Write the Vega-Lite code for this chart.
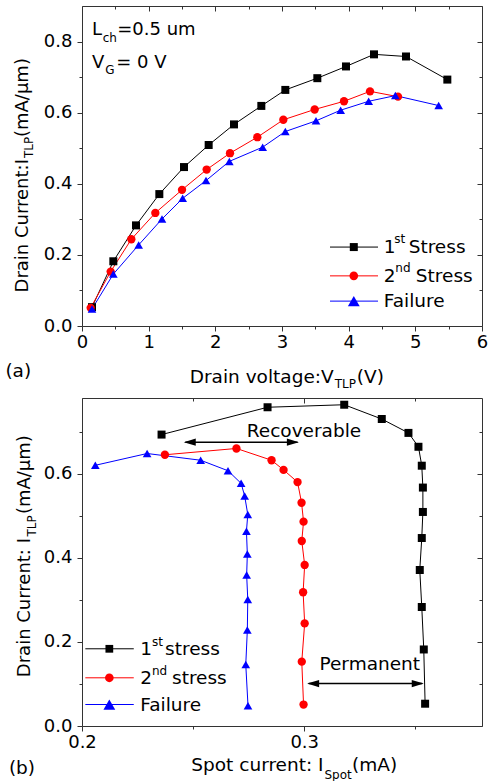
{
"$schema": "https://vega.github.io/schema/vega-lite/v6.json",
"padding": {"left": 5, "top": 5, "right": 0, "bottom": 0},
"spacing": 6,
"config": {
  "view": {"stroke": null},
  "axis": {"domainColor": "#333333", "tickColor": "#333333", "labelColor": "#000000", "labelFont": "DejaVu Sans", "labelFontSize": 18, "domainWidth": 1, "tickWidth": 1, "grid": false, "labelFlush": false, "labelOverlap": false},
  "text": {"font": "DejaVu Sans", "fontSize": 18.5, "color": "#000000"}
},
"datasets": {
  "meas": [
    {"s": "1st", "k": 0, "v": 0.15, "i": 0.053, "spot": 0.3544},
    {"s": "1st", "k": 1, "v": 0.47, "i": 0.182, "spot": 0.3538},
    {"s": "1st", "k": 2, "v": 0.81, "i": 0.283, "spot": 0.3529},
    {"s": "1st", "k": 3, "v": 1.16, "i": 0.371, "spot": 0.3520},
    {"s": "1st", "k": 4, "v": 1.53, "i": 0.447, "spot": 0.3529},
    {"s": "1st", "k": 5, "v": 1.90, "i": 0.509, "spot": 0.3534},
    {"s": "1st", "k": 6, "v": 2.28, "i": 0.567, "spot": 0.3534},
    {"s": "1st", "k": 7, "v": 2.69, "i": 0.619, "spot": 0.3529},
    {"s": "1st", "k": 8, "v": 3.05, "i": 0.664, "spot": 0.3514},
    {"s": "1st", "k": 9, "v": 3.53, "i": 0.697, "spot": 0.3469},
    {"s": "1st", "k": 10, "v": 3.96, "i": 0.730, "spot": 0.3349},
    {"s": "1st", "k": 11, "v": 4.38, "i": 0.764, "spot": 0.3180},
    {"s": "1st", "k": 12, "v": 4.86, "i": 0.758, "spot": 0.2835},
    {"s": "1st", "k": 13, "v": 5.48, "i": 0.693, "spot": 0.2358},
    {"s": "2nd", "k": 0, "v": 0.13, "i": 0.051, "spot": 0.2997},
    {"s": "2nd", "k": 1, "v": 0.43, "i": 0.153, "spot": 0.2989},
    {"s": "2nd", "k": 2, "v": 0.74, "i": 0.244, "spot": 0.3002},
    {"s": "2nd", "k": 3, "v": 1.10, "i": 0.318, "spot": 0.2995},
    {"s": "2nd", "k": 4, "v": 1.50, "i": 0.383, "spot": 0.3002},
    {"s": "2nd", "k": 5, "v": 1.87, "i": 0.440, "spot": 0.2989},
    {"s": "2nd", "k": 6, "v": 2.22, "i": 0.486, "spot": 0.2997},
    {"s": "2nd", "k": 7, "v": 2.63, "i": 0.531, "spot": 0.2988},
    {"s": "2nd", "k": 8, "v": 3.02, "i": 0.580, "spot": 0.2970},
    {"s": "2nd", "k": 9, "v": 3.49, "i": 0.609, "spot": 0.2907},
    {"s": "2nd", "k": 10, "v": 3.93, "i": 0.632, "spot": 0.2853},
    {"s": "2nd", "k": 11, "v": 4.32, "i": 0.660, "spot": 0.2695},
    {"s": "2nd", "k": 12, "v": 4.74, "i": 0.645, "spot": 0.2373},
    {"s": "Failure", "k": 0, "v": 0.15, "i": 0.048, "spot": 0.2747},
    {"s": "Failure", "k": 1, "v": 0.47, "i": 0.146, "spot": 0.2737},
    {"s": "Failure", "k": 2, "v": 0.85, "i": 0.228, "spot": 0.2744},
    {"s": "Failure", "k": 3, "v": 1.20, "i": 0.301, "spot": 0.2746},
    {"s": "Failure", "k": 4, "v": 1.51, "i": 0.359, "spot": 0.2741},
    {"s": "Failure", "k": 5, "v": 1.86, "i": 0.409, "spot": 0.2744},
    {"s": "Failure", "k": 6, "v": 2.21, "i": 0.463, "spot": 0.2740},
    {"s": "Failure", "k": 7, "v": 2.71, "i": 0.503, "spot": 0.2746},
    {"s": "Failure", "k": 8, "v": 3.05, "i": 0.547, "spot": 0.2732},
    {"s": "Failure", "k": 9, "v": 3.51, "i": 0.577, "spot": 0.2716},
    {"s": "Failure", "k": 10, "v": 3.88, "i": 0.607, "spot": 0.2657},
    {"s": "Failure", "k": 11, "v": 4.30, "i": 0.632, "spot": 0.2534},
    {"s": "Failure", "k": 12, "v": 4.70, "i": 0.648, "spot": 0.2293},
    {"s": "Failure", "k": 13, "v": 5.35, "i": 0.620, "spot": 0.2060}
  ]
},
"vconcat": [
{
  "width": 400, "height": 320,
  "resolve": {"axis": {"x": "independent", "y": "independent"}},
  "layer": [
    {"data": {"name": "meas"}, "mark": {"type": "line", "strokeWidth": 1},
     "encoding": {
       "x": {"field": "v", "type": "quantitative", "scale": {"domain": [0, 6], "nice": false, "zero": false}, "axis": {"orient": "bottom", "values": [0, 1, 2, 3, 4, 5, 6], "format": "d", "tickSize": 5, "labelPadding": 2, "title": null}},
       "y": {"field": "i", "type": "quantitative", "scale": {"domain": [0, 0.9], "nice": false, "zero": false}, "axis": {"orient": "left", "values": [0, 0.2, 0.4, 0.6, 0.8], "format": ".1f", "tickSize": 5, "labelPadding": 5, "title": null}},
       "color": {"field": "s", "type": "nominal", "scale": {"domain": ["1st", "2nd", "Failure"], "range": ["#000000", "#ff0000", "#0000ff"]}, "legend": null},
       "order": {"field": "k", "type": "quantitative"}
     }},
    {"data": {"name": "meas"}, "mark": {"type": "point", "filled": true, "opacity": 1, "strokeWidth": 0},
     "encoding": {
       "x": {"field": "v", "type": "quantitative", "scale": {"domain": [0, 6], "nice": false, "zero": false}, "axis": {"orient": "bottom", "values": [0.5, 1.5, 2.5, 3.5, 4.5, 5.5], "tickSize": 3, "labels": false, "domain": false, "title": null}},
       "y": {"field": "i", "type": "quantitative", "scale": {"domain": [0, 0.9], "nice": false, "zero": false}, "axis": {"orient": "left", "values": [0.1, 0.3, 0.5, 0.7], "tickSize": 3, "labels": false, "domain": false, "title": null}},
       "color": {"field": "s", "type": "nominal", "scale": {"domain": ["1st", "2nd", "Failure"], "range": ["#000000", "#ff0000", "#0000ff"]}, "legend": null},
       "shape": {"field": "s", "type": "nominal", "scale": {"domain": ["1st", "2nd", "Failure"], "range": ["square", "circle", "triangle-up"]}, "legend": null},
       "size": {"field": "s", "type": "nominal", "scale": {"domain": ["1st", "2nd", "Failure"], "range": [64, 75, 140]}, "legend": null}
     }},
    {"data": {"name": "meas"}, "mark": {"type": "point", "opacity": 0},
     "encoding": {
       "x": {"field": "v", "type": "quantitative", "scale": {"domain": [0, 6], "nice": false, "zero": false}, "axis": {"orient": "top", "values": [0, 1, 2, 3, 4, 5, 6], "tickSize": -5, "labels": false, "title": null}},
       "y": {"field": "i", "type": "quantitative", "scale": {"domain": [0, 0.9], "nice": false, "zero": false}, "axis": {"orient": "right", "values": [0, 0.2, 0.4, 0.6, 0.8], "tickSize": -5, "labels": false, "title": null}}
     }},
    {"data": {"name": "meas"}, "mark": {"type": "point", "opacity": 0},
     "encoding": {
       "x": {"field": "v", "type": "quantitative", "scale": {"domain": [0, 6], "nice": false, "zero": false}, "axis": {"orient": "top", "values": [0.5, 1.5, 2.5, 3.5, 4.5, 5.5], "tickSize": -3, "labels": false, "domain": false, "title": null}},
       "y": {"field": "i", "type": "quantitative", "scale": {"domain": [0, 0.9], "nice": false, "zero": false}, "axis": {"orient": "right", "values": [0.1, 0.3, 0.5, 0.7], "tickSize": -3, "labels": false, "domain": false, "title": null}}
     }},
    {"data": {"values": [{}]}, "mark": {"type": "text", "text": "L", "align": "left", "baseline": "alphabetic", "fontSize": 18}, "encoding": {"x": {"datum": 0.150, "type": "quantitative", "axis": null}, "y": {"datum": 0.8175, "type": "quantitative", "axis": null}}},
    {"data": {"values": [{}]}, "mark": {"type": "text", "text": "ch", "align": "left", "baseline": "alphabetic", "fontSize": 12}, "encoding": {"x": {"datum": 0.3115, "type": "quantitative", "axis": null}, "y": {"datum": 0.7995, "type": "quantitative", "axis": null}}},
    {"data": {"values": [{}]}, "mark": {"type": "text", "text": "=0.5 um", "align": "left", "baseline": "alphabetic", "fontSize": 18}, "encoding": {"x": {"datum": 0.529, "type": "quantitative", "axis": null}, "y": {"datum": 0.8175, "type": "quantitative", "axis": null}}},
    {"data": {"values": [{}]}, "mark": {"type": "text", "text": "V", "align": "left", "baseline": "alphabetic", "fontSize": 18}, "encoding": {"x": {"datum": 0.150, "type": "quantitative", "axis": null}, "y": {"datum": 0.726, "type": "quantitative", "axis": null}}},
    {"data": {"values": [{}]}, "mark": {"type": "text", "text": "G", "align": "left", "baseline": "alphabetic", "fontSize": 12}, "encoding": {"x": {"datum": 0.349, "type": "quantitative", "axis": null}, "y": {"datum": 0.7095, "type": "quantitative", "axis": null}}},
    {"data": {"values": [{}]}, "mark": {"type": "text", "text": "= 0 V", "align": "left", "baseline": "alphabetic", "fontSize": 18}, "encoding": {"x": {"datum": 0.514, "type": "quantitative", "axis": null}, "y": {"datum": 0.726, "type": "quantitative", "axis": null}}},
    {"data": {"values": [{}]}, "mark": {"type": "text", "text": "(a)", "align": "left", "baseline": "alphabetic", "fontSize": 18.5}, "encoding": {"x": {"datum": -1.149, "type": "quantitative", "axis": null}, "y": {"datum": -0.1434, "type": "quantitative", "axis": null}}},
    {"data": {"values": [{}]}, "mark": {"type": "text", "text": "Drain voltage:V", "align": "right", "baseline": "alphabetic", "fontSize": 18.5}, "encoding": {"x": {"datum": 3.775, "type": "quantitative", "axis": null}, "y": {"datum": -0.159, "type": "quantitative", "axis": null}}},
    {"data": {"values": [{}]}, "mark": {"type": "text", "text": "TLP", "align": "left", "baseline": "alphabetic", "fontSize": 12}, "encoding": {"x": {"datum": 3.79, "type": "quantitative", "axis": null}, "y": {"datum": -0.175, "type": "quantitative", "axis": null}}},
    {"data": {"values": [{}]}, "mark": {"type": "text", "text": "(V)", "align": "left", "baseline": "alphabetic", "fontSize": 18.5}, "encoding": {"x": {"datum": 4.123, "type": "quantitative", "axis": null}, "y": {"datum": -0.159, "type": "quantitative", "axis": null}}},
    {"data": {"values": [{}]}, "mark": {"type": "text", "text": "Drain Current:I", "angle": 270, "align": "right", "baseline": "alphabetic", "fontSize": 18}, "encoding": {"x": {"datum": -0.804, "type": "quantitative", "axis": null}, "y": {"datum": 0.4696, "type": "quantitative", "axis": null}}},
    {"data": {"values": [{}]}, "mark": {"type": "text", "text": "TLP", "angle": 270, "align": "left", "baseline": "alphabetic", "fontSize": 12}, "encoding": {"x": {"datum": -0.737, "type": "quantitative", "axis": null}, "y": {"datum": 0.4724, "type": "quantitative", "axis": null}}},
    {"data": {"values": [{}]}, "mark": {"type": "text", "text": "(mA/μm)", "angle": 270, "align": "left", "baseline": "alphabetic", "fontSize": 18}, "encoding": {"x": {"datum": -0.804, "type": "quantitative", "axis": null}, "y": {"datum": 0.5315, "type": "quantitative", "axis": null}}},
    {"data": {"values": [{}]}, "mark": {"type": "rule", "color": "#000000", "strokeWidth": 1}, "encoding": {"x": {"datum": 3.72, "type": "quantitative", "axis": null}, "x2": {"datum": 4.44}, "y": {"datum": 0.222, "type": "quantitative", "axis": null}}},
    {"data": {"values": [{}]}, "mark": {"type": "rule", "color": "#ff0000", "strokeWidth": 1}, "encoding": {"x": {"datum": 3.72, "type": "quantitative", "axis": null}, "x2": {"datum": 4.44}, "y": {"datum": 0.141, "type": "quantitative", "axis": null}}},
    {"data": {"values": [{}]}, "mark": {"type": "rule", "color": "#0000ff", "strokeWidth": 1}, "encoding": {"x": {"datum": 3.72, "type": "quantitative", "axis": null}, "x2": {"datum": 4.44}, "y": {"datum": 0.070, "type": "quantitative", "axis": null}}},
    {"data": {"values": [{}]}, "mark": {"type": "point", "shape": "square", "filled": true, "color": "#000000", "size": 64, "opacity": 1, "strokeWidth": 0}, "encoding": {"x": {"datum": 4.077, "type": "quantitative", "axis": null}, "y": {"datum": 0.222, "type": "quantitative", "axis": null}}},
    {"data": {"values": [{}]}, "mark": {"type": "point", "shape": "circle", "filled": true, "color": "#ff0000", "size": 75, "opacity": 1, "strokeWidth": 0}, "encoding": {"x": {"datum": 4.077, "type": "quantitative", "axis": null}, "y": {"datum": 0.141, "type": "quantitative", "axis": null}}},
    {"data": {"values": [{}]}, "mark": {"type": "point", "shape": "triangle-up", "filled": true, "color": "#0000ff", "size": 140, "opacity": 1, "strokeWidth": 0}, "encoding": {"x": {"datum": 4.077, "type": "quantitative", "axis": null}, "y": {"datum": 0.070, "type": "quantitative", "axis": null}}},
    {"data": {"values": [{}]}, "mark": {"type": "text", "text": "1", "align": "left", "baseline": "middle"}, "encoding": {"x": {"datum": 4.527, "type": "quantitative", "axis": null}, "y": {"datum": 0.222, "type": "quantitative", "axis": null}}},
    {"data": {"values": [{}]}, "mark": {"type": "text", "text": "st", "align": "left", "baseline": "middle", "fontSize": 12}, "encoding": {"x": {"datum": 4.685, "type": "quantitative", "axis": null}, "y": {"datum": 0.2445, "type": "quantitative", "axis": null}}},
    {"data": {"values": [{}]}, "mark": {"type": "text", "text": "Stress", "align": "left", "baseline": "middle"}, "encoding": {"x": {"datum": 4.90, "type": "quantitative", "axis": null}, "y": {"datum": 0.222, "type": "quantitative", "axis": null}}},
    {"data": {"values": [{}]}, "mark": {"type": "text", "text": "2", "align": "left", "baseline": "middle"}, "encoding": {"x": {"datum": 4.527, "type": "quantitative", "axis": null}, "y": {"datum": 0.141, "type": "quantitative", "axis": null}}},
    {"data": {"values": [{}]}, "mark": {"type": "text", "text": "nd", "align": "left", "baseline": "middle", "fontSize": 12}, "encoding": {"x": {"datum": 4.700, "type": "quantitative", "axis": null}, "y": {"datum": 0.1635, "type": "quantitative", "axis": null}}},
    {"data": {"values": [{}]}, "mark": {"type": "text", "text": "Stress", "align": "left", "baseline": "middle"}, "encoding": {"x": {"datum": 5.007, "type": "quantitative", "axis": null}, "y": {"datum": 0.141, "type": "quantitative", "axis": null}}},
    {"data": {"values": [{}]}, "mark": {"type": "text", "text": "Failure", "align": "left", "baseline": "middle"}, "encoding": {"x": {"datum": 4.527, "type": "quantitative", "axis": null}, "y": {"datum": 0.070, "type": "quantitative", "axis": null}}}
  ]
},
{
  "width": 400, "height": 328,
  "resolve": {"axis": {"x": "independent", "y": "independent"}},
  "layer": [
    {"data": {"name": "meas"}, "mark": {"type": "line", "strokeWidth": 1},
     "encoding": {
       "x": {"field": "spot", "type": "quantitative", "scale": {"domain": [0.2, 0.38], "nice": false, "zero": false}, "axis": {"orient": "bottom", "values": [0.2, 0.3], "format": ".1f", "tickSize": 5, "labelPadding": 2, "title": null}},
       "y": {"field": "i", "type": "quantitative", "scale": {"domain": [0, 0.78], "nice": false, "zero": false}, "axis": {"orient": "left", "values": [0, 0.2, 0.4, 0.6], "format": ".1f", "tickSize": 5, "labelPadding": 5, "title": null}},
       "color": {"field": "s", "type": "nominal", "scale": {"domain": ["1st", "2nd", "Failure"], "range": ["#000000", "#ff0000", "#0000ff"]}, "legend": null},
       "order": {"field": "k", "type": "quantitative"}
     }},
    {"data": {"name": "meas"}, "mark": {"type": "point", "filled": true, "opacity": 1, "strokeWidth": 0},
     "encoding": {
       "x": {"field": "spot", "type": "quantitative", "scale": {"domain": [0.2, 0.38], "nice": false, "zero": false}, "axis": {"orient": "bottom", "values": [0.25, 0.35], "tickSize": 3, "labels": false, "domain": false, "title": null}},
       "y": {"field": "i", "type": "quantitative", "scale": {"domain": [0, 0.78], "nice": false, "zero": false}, "axis": {"orient": "left", "values": [0.1, 0.3, 0.5, 0.7], "tickSize": 3, "labels": false, "domain": false, "title": null}},
       "color": {"field": "s", "type": "nominal", "scale": {"domain": ["1st", "2nd", "Failure"], "range": ["#000000", "#ff0000", "#0000ff"]}, "legend": null},
       "shape": {"field": "s", "type": "nominal", "scale": {"domain": ["1st", "2nd", "Failure"], "range": ["square", "circle", "triangle-up"]}, "legend": null},
       "size": {"field": "s", "type": "nominal", "scale": {"domain": ["1st", "2nd", "Failure"], "range": [60, 75, 140]}, "legend": null}
     }},
    {"data": {"name": "meas"}, "mark": {"type": "point", "opacity": 0},
     "encoding": {
       "x": {"field": "spot", "type": "quantitative", "scale": {"domain": [0.2, 0.38], "nice": false, "zero": false}, "axis": {"orient": "top", "values": [0.2, 0.3], "tickSize": -5, "labels": false, "title": null}},
       "y": {"field": "i", "type": "quantitative", "scale": {"domain": [0, 0.78], "nice": false, "zero": false}, "axis": {"orient": "right", "values": [0, 0.2, 0.4, 0.6], "tickSize": -5, "labels": false, "title": null}}
     }},
    {"data": {"name": "meas"}, "mark": {"type": "point", "opacity": 0},
     "encoding": {
       "x": {"field": "spot", "type": "quantitative", "scale": {"domain": [0.2, 0.38], "nice": false, "zero": false}, "axis": {"orient": "top", "values": [0.25, 0.35], "tickSize": -3, "labels": false, "domain": false, "title": null}},
       "y": {"field": "i", "type": "quantitative", "scale": {"domain": [0, 0.78], "nice": false, "zero": false}, "axis": {"orient": "right", "values": [0.1, 0.3, 0.5, 0.7], "tickSize": -3, "labels": false, "domain": false, "title": null}}
     }},
    {"data": {"values": [{}]}, "mark": {"type": "text", "text": "(b)", "align": "left", "baseline": "alphabetic", "fontSize": 18.5}, "encoding": {"x": {"datum": 0.1671, "type": "quantitative", "axis": null}, "y": {"datum": -0.113, "type": "quantitative", "axis": null}}},
    {"data": {"values": [{}]}, "mark": {"type": "text", "text": "Spot current: I", "align": "right", "baseline": "alphabetic", "fontSize": 18.5}, "encoding": {"x": {"datum": 0.3087, "type": "quantitative", "axis": null}, "y": {"datum": -0.1075, "type": "quantitative", "axis": null}}},
    {"data": {"values": [{}]}, "mark": {"type": "text", "text": "Spot", "align": "left", "baseline": "alphabetic", "fontSize": 12}, "encoding": {"x": {"datum": 0.3091, "type": "quantitative", "axis": null}, "y": {"datum": -0.1256, "type": "quantitative", "axis": null}}},
    {"data": {"values": [{}]}, "mark": {"type": "text", "text": "(mA)", "align": "left", "baseline": "alphabetic", "fontSize": 18.5}, "encoding": {"x": {"datum": 0.3215, "type": "quantitative", "axis": null}, "y": {"datum": -0.1075, "type": "quantitative", "axis": null}}},
    {"data": {"values": [{}]}, "mark": {"type": "text", "text": "Drain Current: I", "angle": 270, "align": "right", "baseline": "alphabetic", "fontSize": 18}, "encoding": {"x": {"datum": 0.1768, "type": "quantitative", "axis": null}, "y": {"datum": 0.447, "type": "quantitative", "axis": null}}},
    {"data": {"values": [{}]}, "mark": {"type": "text", "text": "TLP", "angle": 270, "align": "left", "baseline": "alphabetic", "fontSize": 12}, "encoding": {"x": {"datum": 0.1793, "type": "quantitative", "axis": null}, "y": {"datum": 0.4507, "type": "quantitative", "axis": null}}},
    {"data": {"values": [{}]}, "mark": {"type": "text", "text": "(mA/μm)", "angle": 270, "align": "left", "baseline": "alphabetic", "fontSize": 18}, "encoding": {"x": {"datum": 0.1768, "type": "quantitative", "axis": null}, "y": {"datum": 0.504, "type": "quantitative", "axis": null}}},
    {"data": {"values": [{}]}, "mark": {"type": "text", "text": "Recoverable", "align": "center", "baseline": "alphabetic"}, "encoding": {"x": {"datum": 0.2999, "type": "quantitative", "axis": null}, "y": {"datum": 0.687, "type": "quantitative", "axis": null}}},
    {"data": {"values": [{}]}, "mark": {"type": "text", "text": "Permanent", "align": "center", "baseline": "alphabetic"}, "encoding": {"x": {"datum": 0.3295, "type": "quantitative", "axis": null}, "y": {"datum": 0.132, "type": "quantitative", "axis": null}}},
    {"data": {"values": [{}]}, "mark": {"type": "rule", "color": "#000000", "strokeWidth": 1.5}, "encoding": {"x": {"datum": 0.2465, "type": "quantitative", "axis": null}, "x2": {"datum": 0.2970}, "y": {"datum": 0.675, "type": "quantitative", "axis": null}}},
    {"data": {"values": [{}]}, "mark": {"type": "point", "shape": "M-1,0L1,-0.6L1,0.6Z", "filled": true, "color": "#000000", "size": 144, "opacity": 1, "strokeWidth": 0}, "encoding": {"x": {"datum": 0.2485, "type": "quantitative", "axis": null}, "y": {"datum": 0.675, "type": "quantitative", "axis": null}}},
    {"data": {"values": [{}]}, "mark": {"type": "point", "shape": "M1,0L-1,-0.6L-1,0.6Z", "filled": true, "color": "#000000", "size": 144, "opacity": 1, "strokeWidth": 0}, "encoding": {"x": {"datum": 0.2949, "type": "quantitative", "axis": null}, "y": {"datum": 0.675, "type": "quantitative", "axis": null}}},
    {"data": {"values": [{}]}, "mark": {"type": "rule", "color": "#000000", "strokeWidth": 1.5}, "encoding": {"x": {"datum": 0.3020, "type": "quantitative", "axis": null}, "x2": {"datum": 0.3531}, "y": {"datum": 0.101, "type": "quantitative", "axis": null}}},
    {"data": {"values": [{}]}, "mark": {"type": "point", "shape": "M-1,0L1,-0.6L1,0.6Z", "filled": true, "color": "#000000", "size": 144, "opacity": 1, "strokeWidth": 0}, "encoding": {"x": {"datum": 0.3040, "type": "quantitative", "axis": null}, "y": {"datum": 0.101, "type": "quantitative", "axis": null}}},
    {"data": {"values": [{}]}, "mark": {"type": "point", "shape": "M1,0L-1,-0.6L-1,0.6Z", "filled": true, "color": "#000000", "size": 144, "opacity": 1, "strokeWidth": 0}, "encoding": {"x": {"datum": 0.3511, "type": "quantitative", "axis": null}, "y": {"datum": 0.101, "type": "quantitative", "axis": null}}},
    {"data": {"values": [{}]}, "mark": {"type": "rule", "color": "#000000", "strokeWidth": 1}, "encoding": {"x": {"datum": 0.2015, "type": "quantitative", "axis": null}, "x2": {"datum": 0.2233}, "y": {"datum": 0.1836, "type": "quantitative", "axis": null}}},
    {"data": {"values": [{}]}, "mark": {"type": "rule", "color": "#ff0000", "strokeWidth": 1}, "encoding": {"x": {"datum": 0.2015, "type": "quantitative", "axis": null}, "x2": {"datum": 0.2233}, "y": {"datum": 0.1146, "type": "quantitative", "axis": null}}},
    {"data": {"values": [{}]}, "mark": {"type": "rule", "color": "#0000ff", "strokeWidth": 1}, "encoding": {"x": {"datum": 0.2015, "type": "quantitative", "axis": null}, "x2": {"datum": 0.2233}, "y": {"datum": 0.0511, "type": "quantitative", "axis": null}}},
    {"data": {"values": [{}]}, "mark": {"type": "point", "shape": "square", "filled": true, "color": "#000000", "size": 60, "opacity": 1, "strokeWidth": 0}, "encoding": {"x": {"datum": 0.2123, "type": "quantitative", "axis": null}, "y": {"datum": 0.1836, "type": "quantitative", "axis": null}}},
    {"data": {"values": [{}]}, "mark": {"type": "point", "shape": "circle", "filled": true, "color": "#ff0000", "size": 75, "opacity": 1, "strokeWidth": 0}, "encoding": {"x": {"datum": 0.2123, "type": "quantitative", "axis": null}, "y": {"datum": 0.1146, "type": "quantitative", "axis": null}}},
    {"data": {"values": [{}]}, "mark": {"type": "point", "shape": "triangle-up", "filled": true, "color": "#0000ff", "size": 140, "opacity": 1, "strokeWidth": 0}, "encoding": {"x": {"datum": 0.2123, "type": "quantitative", "axis": null}, "y": {"datum": 0.0511, "type": "quantitative", "axis": null}}},
    {"data": {"values": [{}]}, "mark": {"type": "text", "text": "1", "align": "left", "baseline": "middle"}, "encoding": {"x": {"datum": 0.2262, "type": "quantitative", "axis": null}, "y": {"datum": 0.1836, "type": "quantitative", "axis": null}}},
    {"data": {"values": [{}]}, "mark": {"type": "text", "text": "st", "align": "left", "baseline": "middle", "fontSize": 12}, "encoding": {"x": {"datum": 0.2315, "type": "quantitative", "axis": null}, "y": {"datum": 0.2002, "type": "quantitative", "axis": null}}},
    {"data": {"values": [{}]}, "mark": {"type": "text", "text": "stress", "align": "left", "baseline": "middle"}, "encoding": {"x": {"datum": 0.2374, "type": "quantitative", "axis": null}, "y": {"datum": 0.1836, "type": "quantitative", "axis": null}}},
    {"data": {"values": [{}]}, "mark": {"type": "text", "text": "2", "align": "left", "baseline": "middle"}, "encoding": {"x": {"datum": 0.2262, "type": "quantitative", "axis": null}, "y": {"datum": 0.1146, "type": "quantitative", "axis": null}}},
    {"data": {"values": [{}]}, "mark": {"type": "text", "text": "nd", "align": "left", "baseline": "middle", "fontSize": 12}, "encoding": {"x": {"datum": 0.2315, "type": "quantitative", "axis": null}, "y": {"datum": 0.1312, "type": "quantitative", "axis": null}}},
    {"data": {"values": [{}]}, "mark": {"type": "text", "text": "stress", "align": "left", "baseline": "middle"}, "encoding": {"x": {"datum": 0.2405, "type": "quantitative", "axis": null}, "y": {"datum": 0.1146, "type": "quantitative", "axis": null}}},
    {"data": {"values": [{}]}, "mark": {"type": "text", "text": "Failure", "align": "left", "baseline": "middle"}, "encoding": {"x": {"datum": 0.2262, "type": "quantitative", "axis": null}, "y": {"datum": 0.0511, "type": "quantitative", "axis": null}}}
  ]
}
]
}
